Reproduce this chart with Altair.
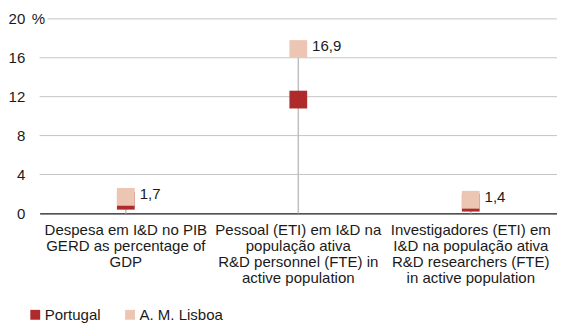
import altair as alt
import pandas as pd

categories = [
    "Despesa em I&D no PIB|GERD as percentage of|GDP",
    "Pessoal (ETI) em I&D na|população ativa|R&D personnel (FTE) in|active population",
    "Investigadores (ETI) em|I&D na população ativa|R&D researchers (FTE)|in active population",
]
series_names = ["Portugal", "A. M. Lisboa"]
portugal = [1.3, 11.7, 1.1]
lisboa = [1.7, 16.9, 1.4]
y_ticks = [0, 4, 8, 12, 16, 20]
colors = ["#AE2A2B", "#EDC6B3"]

rows = []
for c, v in zip(categories, portugal):
    rows.append({"category": c, "series": "Portugal", "value": v})
for c, v in zip(categories, lisboa):
    rows.append({"category": c, "series": "A. M. Lisboa", "value": v})
df = pd.DataFrame(rows)
grid_df = pd.DataFrame({"v": y_ticks[1:-1]})
top_df = pd.DataFrame({"v": [y_ticks[-1]]})

W, H = 524, 197
FONT = "Liberation Sans"
FS = 15.2
TXT = "#1a1a1a"

xenc = alt.X("category:N", sort=categories, title=None,
             scale=alt.Scale(paddingInner=0, paddingOuter=0),
             axis=alt.Axis(labelExpr="split(datum.label, '|')", labelAngle=0,
                           ticks=False, domain=True, domainColor="#1a1a1a",
                           domainWidth=1.5, labelFontSize=FS, labelLineHeight=16.5,
                           labelPadding=9, labelBaseline="top", labelLimit=0,
                           labelColor=TXT, labelFont=FONT, labelOverlap=False))
yscale = alt.Scale(domain=[0, 20], nice=False)
yaxis = alt.Axis(values=y_ticks, grid=False, domain=False, ticks=False,
                 labelPadding=15, labelFontSize=FS, labelColor=TXT,
                 labelFont=FONT, title=None, labelOverlap=False)


def yenc(field):
    return alt.Y(field, scale=yscale, axis=yaxis)


grid = alt.Chart(grid_df).mark_rule(color="#C4C4C4", strokeWidth=1).encode(
    y=yenc("v:Q"), x=alt.value(0), x2=alt.value(W))
grid_top = alt.Chart(top_df).mark_rule(color="#C4C4C4", strokeWidth=1).encode(
    y=yenc("v:Q"), x=alt.value(8), x2=alt.value(W))
pct = alt.Chart(top_df).mark_text(text="%", align="left", baseline="middle",
                                  fontSize=FS, font=FONT, color=TXT).encode(
    y=yenc("v:Q"), x=alt.value(-8))

rule = alt.Chart(df).transform_aggregate(
    vmax="max(value)", groupby=["category"]
).mark_rule(color="#BFBFBF", strokeWidth=1.5).encode(
    x=xenc, y=yenc("vmax:Q"), y2=alt.datum(0))

points = alt.Chart(df).mark_point(shape="square", filled=True, size=324,
                                  opacity=1, strokeWidth=0).encode(
    x=xenc,
    y=yenc("value:Q"),
    color=alt.Color("series:N", scale=alt.Scale(domain=series_names, range=colors),
                    legend=alt.Legend(title=None, orient="none", legendX=-12, legendY=292,
                                      direction="horizontal", symbolType="square",
                                      symbolSize=100, symbolStrokeWidth=0,
                                      labelFontSize=FS, labelFont=FONT,
                                      labelColor=TXT, columnPadding=22,
                                      labelOffset=2)),
)

labels = alt.Chart(df).transform_filter(
    alt.datum.series == "A. M. Lisboa"
).transform_calculate(
    lab="replace(format(datum.value, '.1f'), '.', ',')"
).mark_text(align="left", baseline="middle", dx=14, dy=-3, fontSize=FS,
            font=FONT, color=TXT).encode(
    x=xenc, y=yenc("value:Q"), text="lab:N")

chart = alt.layer(grid, grid_top, pct, rule, points, labels).properties(
    width=W, height=H, autosize="none",
    padding={"left": 32, "top": 9, "right": 0, "bottom": 109},
).configure_view(stroke=None).configure_axisY(labelOverlap=False)

chart.save("out.html", embed_options={"renderer": "svg", "actions": False})
